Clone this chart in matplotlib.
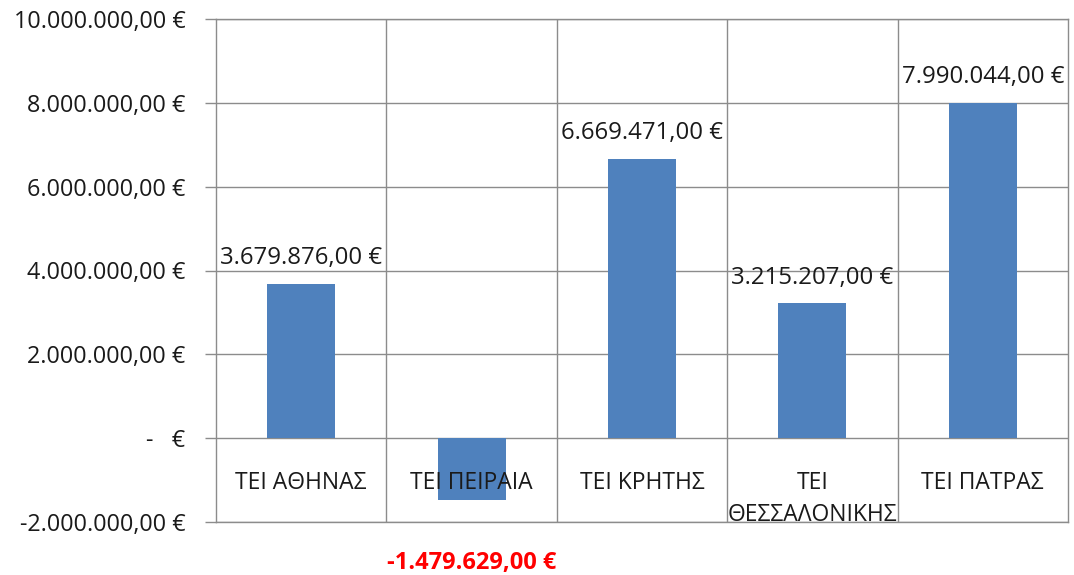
import matplotlib
matplotlib.use("Agg")
import matplotlib.pyplot as plt
from matplotlib.ticker import FuncFormatter, FixedLocator

categories = ["ΤΕΙ ΑΘΗΝΑΣ", "ΤΕΙ ΠΕΙΡΑΙΑ", "ΤΕΙ ΚΡΗΤΗΣ", "ΤΕΙ\nΘΕΣΣΑΛΟΝΙΚΗΣ", "ΤΕΙ ΠΑΤΡΑΣ"]
values = [3679876.00, -1479629.00, 6669471.00, 3215207.00, 7990044.00]
y_ticks = [-2000000, 0, 2000000, 4000000, 6000000, 8000000, 10000000]

plt.rcParams['font.family'] = ['Open Sans', 'DejaVu Sans']

def euro(v):
    if abs(v) < 0.005:
        return "-   €"
    s = f"{abs(v):,.2f}".replace(",", "X").replace(".", ",").replace("X", ".")
    return ("-" if v < 0 else "") + s + " €"

fig = plt.figure(figsize=(10.74, 5.75), dpi=100)
ax = fig.add_axes([216/1074, 1-522/575, (1068-216)/1074, (522-19)/575])

grid_c = "#8c8c8c"
bar_c = "#4F81BD"
x = list(range(len(categories)))
bars = ax.bar(x, values, width=0.4, color=bar_c, zorder=3)

ax.set_xlim(-0.5, len(categories) - 0.5)
ax.set_ylim(y_ticks[0], y_ticks[-1])
ax.yaxis.set_major_locator(FixedLocator(y_ticks))
ax.yaxis.set_major_formatter(FuncFormatter(lambda v, p: euro(v)))
ax.tick_params(axis='y', length=8, width=1, color=grid_c, pad=14, labelsize=16.8, labelcolor="#1a1a1a")
ax.set_xticks([])
ax.set_xticks([i + 0.5 for i in x[:-1]], minor=True)
ax.tick_params(axis='x', which='both', length=0, labelbottom=False)
ax.grid(axis='y', which='major', color=grid_c, linewidth=1, zorder=1)
ax.grid(axis='x', which='minor', color=grid_c, linewidth=1, zorder=1)
for sp in ax.spines.values():
    sp.set_color(grid_c)
    sp.set_linewidth(1)

for xi, name in zip(x, categories):
    ax.text(xi, -790000, name, ha='center', va='top', fontsize=16.5,
            color="#1a1a1a", linespacing=1.45, zorder=4)

for xi, v in zip(x, values):
    if v >= 0:
        ax.annotate(euro(v), (xi, v), xytext=(0, 10), textcoords='offset points',
                    ha='center', va='bottom', fontsize=17.3, color="#1a1a1a", zorder=5)
    else:
        ax.annotate(euro(v), (xi, v), xytext=(0, -45), textcoords='offset points',
                    ha='center', va='center', fontsize=17, fontweight='bold',
                    color="#ff0000", annotation_clip=False, zorder=5)

fig.savefig("out.png", dpi=100)
